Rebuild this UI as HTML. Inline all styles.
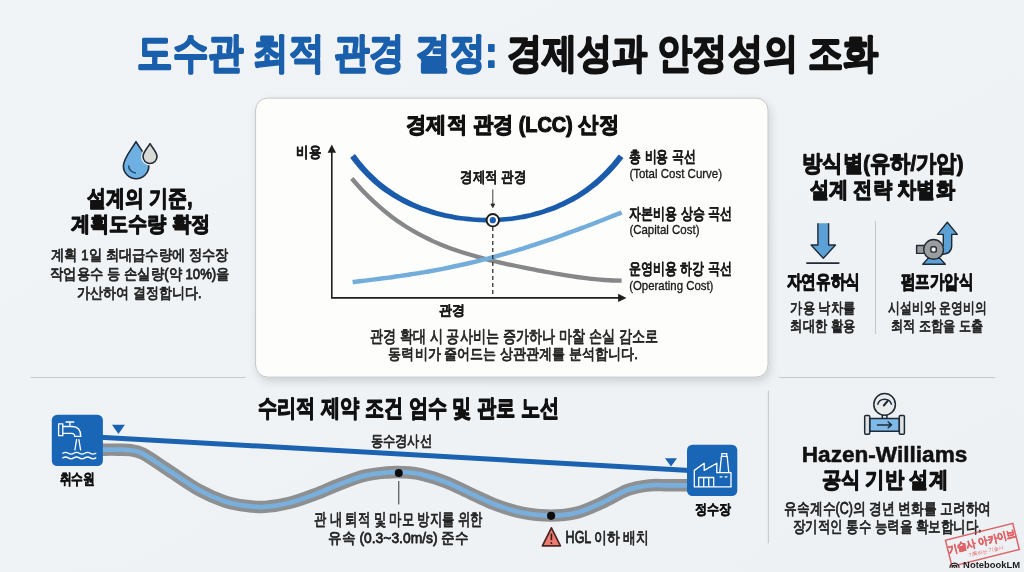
<!DOCTYPE html>
<html lang="ko"><head><meta charset="utf-8"><title>도수관 최적 관경 결정</title>
<style>html,body{margin:0;padding:0;background:#f0f3f6;}body{width:1024px;height:572px;overflow:hidden;font-family:'Liberation Sans', sans-serif;}</style>
</head><body>
<svg width="1024" height="572" viewBox="0 0 1024 572" style="display:block;font-family:'Liberation Sans', sans-serif;will-change:transform">
<defs>
<linearGradient id="bg" x1="0" y1="0" x2="1" y2="1">
<stop offset="0" stop-color="#f1f4f7"/><stop offset="1" stop-color="#eef1f4"/>
</linearGradient>
<filter id="sh" x="-10%" y="-10%" width="120%" height="130%">
<feGaussianBlur in="SourceAlpha" stdDeviation="4.5"/><feOffset dx="1.5" dy="4"/>
<feComponentTransfer><feFuncA type="linear" slope="0.14"/></feComponentTransfer>
<feMerge><feMergeNode/><feMergeNode in="SourceGraphic"/></feMerge>
</filter>
</defs>
<rect width="1024" height="572" fill="url(#bg)"/>
<text x="137.2" y="66.9" font-size="41.6" font-weight="bold" fill="#1a5fab" stroke="#1a5fab" stroke-width="2.0" stroke-linejoin="round" textLength="360.1" lengthAdjust="spacingAndGlyphs">도수관 최적 관경 결정:</text>
<text x="506.5" y="67.0" font-size="41.0" font-weight="bold" fill="#111" stroke="#111" stroke-width="2.0" stroke-linejoin="round" textLength="372.0" lengthAdjust="spacingAndGlyphs">경제성과 안정성의 조화</text>
<g stroke="#c6cace" stroke-width="1.1" fill="none"><path d="M30.5,377.5H245.5"/><path d="M778.8,377.5H995"/><path d="M768.4,390.6V543.5"/><path d="M875.5,221V334"/></g>
<rect x="255.6" y="98.1" width="512.4" height="279" rx="12" fill="#fdfdfb" stroke="#c3c6ca" stroke-width="1" filter="url(#sh)"/>
<text x="406.1" y="132.2" font-size="21.5" font-weight="bold" fill="#111" stroke="#111" stroke-width="1.15" stroke-linejoin="round" textLength="212.8" lengthAdjust="spacingAndGlyphs">경제적 관경 (LCC) 산정</text>
<g stroke="#1e1e1e" stroke-width="1.6" fill="none"><path d="M331.8,150V297.9H620.5"/></g>
<path d="M331.8,144.5l-4.2,8.2h8.4z" fill="#1e1e1e"/>
<path d="M626.5,297.9l-8.4,-4.2v8.4z" fill="#1e1e1e"/>
<text x="296.2" y="156.9" font-size="14.6" font-weight="bold" fill="#1a1a1a" stroke="#1a1a1a" stroke-width="0.4" stroke-linejoin="round" textLength="24.9" lengthAdjust="spacingAndGlyphs">비용</text>
<text x="438.8" y="315.4" font-size="14.3" font-weight="bold" fill="#1a1a1a" stroke="#1a1a1a" stroke-width="0.4" stroke-linejoin="round" textLength="26.0" lengthAdjust="spacingAndGlyphs">관경</text>
<path d="M351.8,178.5 C353.3,180.2 357.8,185.4 360.8,188.7 C363.8,191.9 366.8,195.0 369.8,197.9 C372.8,200.8 375.8,203.6 378.8,206.2 C381.8,208.9 384.8,211.4 387.8,213.7 C390.8,216.1 393.8,218.3 396.8,220.5 C399.8,222.6 402.8,224.6 405.8,226.5 C408.8,228.4 411.8,230.2 414.8,231.9 C417.8,233.6 420.8,235.2 423.8,236.7 C426.8,238.3 429.8,239.7 432.8,241.1 C435.8,242.4 438.8,243.7 441.8,244.9 C444.8,246.1 447.8,247.3 450.8,248.4 C453.8,249.5 456.8,250.5 459.8,251.5 C462.8,252.5 465.8,253.4 468.8,254.3 C471.8,255.2 474.8,256.1 477.8,256.9 C480.8,257.7 483.8,258.5 486.8,259.3 C489.8,260.1 492.8,260.8 495.8,261.5 C498.8,262.2 501.8,262.9 504.8,263.6 C507.8,264.2 510.8,264.9 513.8,265.5 C516.8,266.2 519.8,266.8 522.8,267.4 C525.8,268.0 528.8,268.6 531.8,269.2 C534.8,269.8 537.8,270.3 540.8,270.9 C543.8,271.5 546.8,272.0 549.8,272.5 C552.8,273.1 555.8,273.6 558.8,274.1 C561.8,274.6 564.8,275.1 567.8,275.6 C570.8,276.1 573.8,276.6 576.8,277.0 C579.8,277.4 582.8,277.8 585.8,278.2 C588.8,278.6 591.8,278.9 594.8,279.2 C597.8,279.5 600.8,279.8 603.8,280.0 C606.8,280.2 609.8,280.4 612.8,280.5 C615.8,280.6 620.1,280.6 621.6,280.6" fill="none" stroke="#868789" stroke-width="4.3"/>
<path d="M352.6,282.1 C354.1,281.9 358.6,281.4 361.6,281.0 C364.6,280.7 367.6,280.3 370.6,279.9 C373.6,279.5 376.6,279.2 379.6,278.8 C382.6,278.4 385.6,278.0 388.6,277.6 C391.6,277.2 394.6,276.7 397.6,276.3 C400.6,275.9 403.6,275.4 406.6,275.0 C409.6,274.5 412.6,274.1 415.6,273.6 C418.6,273.1 421.6,272.6 424.6,272.1 C427.6,271.5 430.6,271.0 433.6,270.5 C436.6,269.9 439.6,269.3 442.6,268.8 C445.6,268.2 448.6,267.6 451.6,267.0 C454.6,266.3 457.6,265.7 460.6,265.0 C463.6,264.4 466.6,263.7 469.6,263.0 C472.6,262.3 475.6,261.6 478.6,260.8 C481.6,260.1 484.6,259.3 487.6,258.6 C490.6,257.8 493.6,257.0 496.6,256.2 C499.6,255.3 502.6,254.5 505.6,253.6 C508.6,252.8 511.6,251.9 514.6,251.0 C517.6,250.1 520.6,249.2 523.6,248.3 C526.6,247.3 529.6,246.4 532.6,245.4 C535.6,244.4 538.6,243.4 541.6,242.4 C544.6,241.4 547.6,240.4 550.6,239.4 C553.6,238.3 556.6,237.3 559.6,236.2 C562.6,235.1 565.6,234.0 568.6,232.9 C571.6,231.8 574.6,230.7 577.6,229.6 C580.6,228.5 583.6,227.3 586.6,226.2 C589.6,225.0 592.6,223.9 595.6,222.7 C598.6,221.5 601.6,220.4 604.6,219.2 C607.6,218.0 610.8,216.7 613.6,215.6 C616.4,214.5 620.3,213.0 621.6,212.4" fill="none" stroke="#73addb" stroke-width="4.4"/>
<path d="M492.8,227V297" fill="none" stroke="#222" stroke-width="1.2" stroke-dasharray="4 3"/>
<path d="M350.2,157.7 C351.2,159.0 354.2,163.0 356.3,165.5 C358.3,168.0 360.3,170.4 362.4,172.6 C364.4,174.8 366.5,176.9 368.5,178.8 C370.6,180.8 372.6,182.7 374.7,184.4 C376.7,186.2 378.8,187.8 380.8,189.4 C382.9,190.9 384.9,192.4 387.0,193.8 C389.0,195.2 391.1,196.5 393.1,197.8 C395.2,199.0 397.2,200.2 399.3,201.3 C401.3,202.4 403.4,203.5 405.4,204.4 C407.4,205.4 409.5,206.4 411.5,207.3 C413.6,208.1 415.6,209.0 417.6,209.8 C419.7,210.6 421.7,211.3 423.7,212.0 C425.8,212.7 427.8,213.4 429.8,214.0 C431.9,214.6 433.9,215.2 435.9,215.7 C438.0,216.3 440.0,216.8 442.0,217.2 C444.1,217.7 446.1,218.1 448.1,218.5 C450.1,218.9 452.2,219.3 454.2,219.7 C456.2,220.0 458.2,220.3 460.3,220.6 C462.3,220.8 464.3,221.1 466.3,221.3 C468.4,221.5 470.4,221.7 472.4,221.8 C474.4,222.0 476.5,222.1 478.5,222.2 C480.5,222.3 482.5,222.3 484.6,222.4 C486.6,222.4 488.6,222.4 490.6,222.3 C492.7,222.3 494.7,222.3 496.7,222.2 C498.7,222.1 500.8,222.0 502.8,221.8 C504.8,221.7 506.8,221.5 508.9,221.3 C510.9,221.1 512.9,220.8 514.9,220.5 C517.0,220.3 519.0,219.9 521.0,219.6 C523.0,219.2 525.1,218.9 527.1,218.4 C529.1,218.0 531.2,217.6 533.2,217.1 C535.2,216.6 537.2,216.0 539.3,215.5 C541.3,214.9 543.3,214.3 545.4,213.6 C547.4,213.0 549.4,212.3 551.5,211.5 C553.5,210.8 555.6,210.0 557.6,209.2 C559.6,208.3 561.7,207.4 563.7,206.5 C565.7,205.6 567.8,204.6 569.8,203.5 C571.9,202.5 573.9,201.4 575.9,200.2 C578.0,199.0 580.0,197.8 582.1,196.5 C584.1,195.2 586.2,193.8 588.2,192.4 C590.3,190.9 592.3,189.4 594.4,187.8 C596.4,186.2 598.4,184.5 600.5,182.7 C602.5,180.9 604.6,179.1 606.6,177.1 C608.7,175.1 610.7,173.0 612.8,170.8 C614.8,168.6 617.1,165.9 618.9,163.8 C620.7,161.7 622.7,159.0 623.5,158.1 L618.7,154.4 C618.0,155.3 616.0,157.9 614.3,160.0 C612.6,162.1 610.4,164.7 608.4,166.8 C606.5,169.0 604.5,171.0 602.6,172.9 C600.6,174.9 598.7,176.7 596.7,178.4 C594.8,180.2 592.8,181.8 590.8,183.4 C588.9,185.0 586.9,186.5 585.0,187.9 C583.0,189.3 581.1,190.6 579.1,191.9 C577.2,193.2 575.2,194.4 573.3,195.6 C571.3,196.7 569.3,197.8 567.4,198.8 C565.4,199.9 563.5,200.9 561.5,201.8 C559.5,202.7 557.6,203.6 555.6,204.4 C553.6,205.3 551.7,206.1 549.7,206.8 C547.8,207.5 545.8,208.2 543.8,208.9 C541.9,209.6 539.9,210.2 537.9,210.8 C536.0,211.3 534.0,211.9 532.0,212.4 C530.0,212.9 528.1,213.3 526.1,213.8 C524.1,214.2 522.2,214.6 520.2,215.0 C518.2,215.3 516.2,215.6 514.3,215.9 C512.3,216.2 510.3,216.5 508.3,216.7 C506.4,216.9 504.4,217.1 502.4,217.3 C500.4,217.4 498.5,217.6 496.5,217.7 C494.5,217.8 492.5,217.8 490.6,217.8 C488.6,217.9 486.6,217.9 484.6,217.8 C482.7,217.8 480.7,217.7 478.7,217.6 C476.7,217.5 474.8,217.4 472.8,217.2 C470.8,217.0 468.8,216.8 466.9,216.6 C464.9,216.4 462.9,216.1 460.9,215.9 C459.0,215.6 457.0,215.3 455.0,214.9 C453.0,214.6 451.1,214.2 449.1,213.8 C447.1,213.3 445.1,212.9 443.2,212.4 C441.2,211.9 439.2,211.4 437.3,210.9 C435.3,210.3 433.3,209.7 431.4,209.1 C429.4,208.5 427.4,207.8 425.5,207.1 C423.5,206.4 421.5,205.7 419.6,204.9 C417.6,204.1 415.6,203.3 413.7,202.4 C411.7,201.5 409.8,200.6 407.8,199.6 C405.8,198.6 403.9,197.6 401.9,196.5 C400.0,195.4 398.0,194.2 396.1,193.0 C394.1,191.8 392.2,190.5 390.2,189.1 C388.3,187.8 386.3,186.3 384.4,184.8 C382.4,183.3 380.5,181.7 378.5,180.0 C376.6,178.3 374.6,176.5 372.7,174.6 C370.7,172.7 368.8,170.7 366.8,168.5 C364.9,166.4 362.9,164.1 360.9,161.7 C359.0,159.3 356.0,155.3 355.0,154.0 Z" fill="#1a5cab"/>
<circle cx="492.8" cy="220.2" r="6.2" fill="#fff" stroke="#1d1d1d" stroke-width="1.9"/>
<circle cx="492.8" cy="220.2" r="3.1" fill="#1b5fae"/>
<text x="460.1" y="181.9" font-size="15.1" font-weight="bold" fill="#1a1a1a" stroke="#1a1a1a" stroke-width="0.2" stroke-linejoin="round" textLength="66.1" lengthAdjust="spacingAndGlyphs">경제적 관경</text>
<path d="M492.8,189.5V206M490.9,204l1.9,3.6l1.9,-3.6z" fill="#2a2a2a" stroke="#2a2a2a" stroke-width="0.9"/>
<text x="629.3" y="162.2" font-size="16.2" font-weight="bold" fill="#1a1a1a" stroke="#1a1a1a" stroke-width="0.2" stroke-linejoin="round" textLength="66.2" lengthAdjust="spacingAndGlyphs">총 비용 곡선</text>
<text x="629.4" y="177.5" font-size="13.5" font-weight="normal" fill="#1a1a1a" stroke="#1a1a1a" stroke-width="0.35" stroke-linejoin="round" textLength="92.7" lengthAdjust="spacingAndGlyphs">(Total Cost Curve)</text>
<text x="629.3" y="219.0" font-size="15.7" font-weight="bold" fill="#1a1a1a" stroke="#1a1a1a" stroke-width="0.2" stroke-linejoin="round" textLength="102.6" lengthAdjust="spacingAndGlyphs">자본비용 상승 곡선</text>
<text x="629.4" y="233.8" font-size="13.1" font-weight="normal" fill="#1a1a1a" stroke="#1a1a1a" stroke-width="0.35" stroke-linejoin="round" textLength="70.1" lengthAdjust="spacingAndGlyphs">(Capital Cost)</text>
<text x="629.1" y="274.1" font-size="15.7" font-weight="bold" fill="#1a1a1a" stroke="#1a1a1a" stroke-width="0.2" stroke-linejoin="round" textLength="102.6" lengthAdjust="spacingAndGlyphs">운영비용 하강 곡선</text>
<text x="629.2" y="290.2" font-size="13.1" font-weight="normal" fill="#1a1a1a" stroke="#1a1a1a" stroke-width="0.35" stroke-linejoin="round" textLength="84.2" lengthAdjust="spacingAndGlyphs">(Operating Cost)</text>
<text x="369.6" y="341.8" font-size="17.3" font-weight="normal" fill="#222" stroke="#222" stroke-width="0.8" stroke-linejoin="round" textLength="288.7" lengthAdjust="spacingAndGlyphs">관경 확대 시 공사비는 증가하나 마찰 손실 감소로</text>
<text x="388.4" y="359.1" font-size="15.1" font-weight="normal" fill="#222" stroke="#222" stroke-width="0.8" stroke-linejoin="round" textLength="249.6" lengthAdjust="spacingAndGlyphs">동력비가 줄어드는 상관관계를 분석합니다.</text>
<g stroke="#1f2a36" stroke-width="1.6" stroke-linejoin="round"><path d="M136,141.6C131,150 123.4,158.5 123.4,166A12.7,12.7 0 0 0 148.8,166C148.8,158.5 141,150 136,141.6Z" fill="#6fb0e2"/><path d="M150,143.6C147.5,148 143,152.5 143,156.5A7,7 0 0 0 157,156.5C157,152.5 152.5,148 150,143.6Z" fill="#d9d9d5" stroke="#f4f6f8" stroke-width="4"/><path d="M150,143.6C147.5,148 143,152.5 143,156.5A7,7 0 0 0 157,156.5C157,152.5 152.5,148 150,143.6Z" fill="#d9d9d5"/><path d="M128.6,165.5A7.5,7.5 0 0 0 136,173" fill="none" stroke="#1f4f78"/></g>
<text x="87.1" y="205.6" font-size="23.1" font-weight="bold" fill="#111" stroke="#111" stroke-width="1.15" stroke-linejoin="round" textLength="105.4" lengthAdjust="spacingAndGlyphs">설계의 기준,</text>
<text x="70.6" y="231.1" font-size="20.8" font-weight="bold" fill="#111" stroke="#111" stroke-width="1.15" stroke-linejoin="round" textLength="139.6" lengthAdjust="spacingAndGlyphs">계획도수량 확정</text>
<text x="51.2" y="259.7" font-size="14.8" font-weight="normal" fill="#222" stroke="#222" stroke-width="0.8" stroke-linejoin="round" textLength="177.4" lengthAdjust="spacingAndGlyphs">계획 1일 최대급수량에 정수장</text>
<text x="50.1" y="279.1" font-size="14.8" font-weight="normal" fill="#222" stroke="#222" stroke-width="0.8" stroke-linejoin="round" textLength="179.5" lengthAdjust="spacingAndGlyphs">작업용수 등 손실량(약 10%)을</text>
<text x="77.4" y="297.9" font-size="14.8" font-weight="normal" fill="#222" stroke="#222" stroke-width="0.8" stroke-linejoin="round" textLength="124.2" lengthAdjust="spacingAndGlyphs">가산하여 결정합니다.</text>
<text x="802.1" y="170.8" font-size="22.6" font-weight="bold" fill="#111" stroke="#111" stroke-width="1.15" stroke-linejoin="round" textLength="161.3" lengthAdjust="spacingAndGlyphs">방식별(유하/가압)</text>
<text x="809.6" y="197.1" font-size="21.9" font-weight="bold" fill="#111" stroke="#111" stroke-width="1.15" stroke-linejoin="round" textLength="145.3" lengthAdjust="spacingAndGlyphs">설계 전략 차별화</text>
<path d="M817.9,223.3V245H811.1L823.3,258.3L835.5,245H828.6V223.3" fill="#5ca1d6" stroke="#1f2a36" stroke-width="1.4" stroke-linejoin="round"/>
<path d="M806.3,263.1H839.4" stroke="#1f2a36" stroke-width="1.6"/>
<g stroke="#1f2a36" stroke-width="1.4" stroke-linejoin="round"><path d="M928,258.4L922.8,264.3H945.3L940,258.4Z" fill="#5ca1d6"/><path d="M940,254.5C946,254.5 951.7,253 951.7,246V234.4H957.3L947.3,222.3L937.4,234.4H943.3V244C943.3,246.5 942,247.5 940,247.5Z" fill="#5ca1d6"/><rect x="916.6" y="245.5" width="9" height="7.9" fill="#9b9c9e"/><circle cx="933.6" cy="249.4" r="9.9" fill="#9b9c9e"/><rect x="930.9" y="246.7" width="5.4" height="5.4" rx="1.8" fill="#f2f2f2"/></g>
<text x="786.5" y="287.8" font-size="18.7" font-weight="bold" fill="#111" stroke="#111" stroke-width="1.0" stroke-linejoin="round" textLength="73.5" lengthAdjust="spacingAndGlyphs">자연유하식</text>
<text x="900.9" y="287.8" font-size="18.7" font-weight="bold" fill="#111" stroke="#111" stroke-width="1.0" stroke-linejoin="round" textLength="72.6" lengthAdjust="spacingAndGlyphs">펌프가압식</text>
<text x="790.4" y="312.7" font-size="14.5" font-weight="normal" fill="#222" stroke="#222" stroke-width="0.8" stroke-linejoin="round" textLength="64.7" lengthAdjust="spacingAndGlyphs">가용 낙차를</text>
<text x="790.4" y="330.9" font-size="15.2" font-weight="normal" fill="#222" stroke="#222" stroke-width="0.8" stroke-linejoin="round" textLength="64.9" lengthAdjust="spacingAndGlyphs">최대한 활용</text>
<text x="888.4" y="312.7" font-size="14.5" font-weight="normal" fill="#222" stroke="#222" stroke-width="0.8" stroke-linejoin="round" textLength="98.2" lengthAdjust="spacingAndGlyphs">시설비와 운영비의</text>
<text x="890.9" y="330.9" font-size="15.2" font-weight="normal" fill="#222" stroke="#222" stroke-width="0.8" stroke-linejoin="round" textLength="92.0" lengthAdjust="spacingAndGlyphs">최적 조합을 도출</text>
<text x="258.1" y="416.4" font-size="24.2" font-weight="bold" fill="#111" stroke="#111" stroke-width="1.15" stroke-linejoin="round" textLength="301.1" lengthAdjust="spacingAndGlyphs">수리적 제약 조건 엄수 및 관로 노선</text>
<path d="M100.0,449.7 C103.0,449.7 112.9,449.6 118.0,449.7 C123.1,449.8 126.4,449.5 130.6,450.2 C134.8,450.9 136.8,450.5 143.1,453.8 C149.3,457.1 158.7,463.9 168.1,470.0 C177.5,476.1 190.0,485.1 199.4,490.3 C208.8,495.5 216.6,498.7 224.4,501.3 C232.2,503.9 239.5,505.0 246.3,505.9 C253.1,506.8 257.7,507.4 265.0,506.9 C272.3,506.4 281.7,504.9 290.0,502.8 C298.3,500.7 306.7,497.5 315.0,494.4 C323.3,491.3 331.7,487.2 340.0,484.1 C348.3,481.0 357.2,477.5 365.0,475.6 C372.8,473.7 380.6,473.1 386.9,472.5 C393.1,471.9 396.8,471.9 402.5,472.2 C408.2,472.5 414.0,472.7 421.3,474.4 C428.6,476.1 438.0,479.0 446.3,482.2 C454.6,485.4 463.0,490.0 471.3,493.8 C479.6,497.6 488.0,501.9 496.3,505.0 C504.6,508.1 512.2,510.7 521.3,512.5 C530.4,514.3 541.6,515.6 551.0,515.6 C560.4,515.6 568.9,514.7 577.5,512.5 C586.1,510.3 594.2,506.2 602.5,502.5 C610.8,498.8 619.7,492.9 627.5,490.0 C635.3,487.1 642.6,486.1 649.4,485.3 C656.1,484.5 661.2,485.3 668.0,485.3 C674.8,485.3 686.3,485.3 690.0,485.3" fill="none" stroke="#8e8f91" stroke-width="12.4"/>
<path d="M100.0,449.7 C103.0,449.7 112.9,449.6 118.0,449.7 C123.1,449.8 126.4,449.5 130.6,450.2 C134.8,450.9 136.8,450.5 143.1,453.8 C149.3,457.1 158.7,463.9 168.1,470.0 C177.5,476.1 190.0,485.1 199.4,490.3 C208.8,495.5 216.6,498.7 224.4,501.3 C232.2,503.9 239.5,505.0 246.3,505.9 C253.1,506.8 257.7,507.4 265.0,506.9 C272.3,506.4 281.7,504.9 290.0,502.8 C298.3,500.7 306.7,497.5 315.0,494.4 C323.3,491.3 331.7,487.2 340.0,484.1 C348.3,481.0 357.2,477.5 365.0,475.6 C372.8,473.7 380.6,473.1 386.9,472.5 C393.1,471.9 396.8,471.9 402.5,472.2 C408.2,472.5 414.0,472.7 421.3,474.4 C428.6,476.1 438.0,479.0 446.3,482.2 C454.6,485.4 463.0,490.0 471.3,493.8 C479.6,497.6 488.0,501.9 496.3,505.0 C504.6,508.1 512.2,510.7 521.3,512.5 C530.4,514.3 541.6,515.6 551.0,515.6 C560.4,515.6 568.9,514.7 577.5,512.5 C586.1,510.3 594.2,506.2 602.5,502.5 C610.8,498.8 619.7,492.9 627.5,490.0 C635.3,487.1 642.6,486.1 649.4,485.3 C656.1,484.5 661.2,485.3 668.0,485.3 C674.8,485.3 686.3,485.3 690.0,485.3" fill="none" stroke="#79afdc" stroke-width="4.7"/>
<path d="M100,437.2L690,470.4" stroke="#1b62b0" stroke-width="5"/>
<path d="M112,424.7H124.9L118.45,434.1Z" fill="#1b62b0"/>
<path d="M665,458.3H677L671,466.6Z" fill="#1b62b0"/>
<rect x="51.8" y="414.7" width="51.1" height="51.3" rx="5.5" fill="#1a66b6"/>
<g fill="none" stroke="#fff" stroke-width="1.3" stroke-linejoin="round" stroke-linecap="round"><rect x="58.6" y="423.9" width="4.2" height="11.8"/><path d="M66,422H73.8M69.9,422V426.4"/><path d="M62.8,426.5H72C78,426.5 80.8,430 80.8,436.4H74.7C74.7,434 73.5,433.3 71.5,433.3H62.8"/><path d="M76.6,439.6L74.9,449.8M78.9,439.6L80.6,449.8"/><path d="M62.8,453.2q2.75,-1.8 5.5,0t5.5,0t5.5,0t5.5,0t5.5,0t5.5,0"/><path d="M62.8,457.9q2.75,-1.8 5.5,0t5.5,0t5.5,0t5.5,0t5.5,0t5.5,0"/></g>
<text x="59.5" y="483.9" font-size="14.5" font-weight="bold" fill="#111" stroke="#111" stroke-width="0.5" stroke-linejoin="round" textLength="35.5" lengthAdjust="spacingAndGlyphs">취수원</text>
<rect x="687" y="444.7" width="50.3" height="51.3" rx="5.5" fill="#1a66b6"/>
<g fill="none" stroke="#fff" stroke-width="1.3" stroke-linejoin="round"><path d="M694.3,486.9V470.4L704.2,463.3V470.4L716.8,463.3V472.7H731V486.9Z"/><path d="M719.8,472.7L721.4,456.4H727.2L728.8,472.7M721.8,456.4V453.6H726.8V456.4"/><path d="M698.7,486.9V477.5H713.7V486.9M703.7,477.5V486.9M708.7,477.5V486.9"/><path d="M719.6,476.8H722.4M724.6,476.8H727.4"/></g>
<text x="694.5" y="514.3" font-size="14.0" font-weight="bold" fill="#111" stroke="#111" stroke-width="0.5" stroke-linejoin="round" textLength="36.2" lengthAdjust="spacingAndGlyphs">정수장</text>
<text x="370.6" y="446.1" font-size="15.2" font-weight="normal" fill="#222" stroke="#222" stroke-width="0.8" stroke-linejoin="round" textLength="61.5" lengthAdjust="spacingAndGlyphs">동수경사선</text>
<circle cx="398.8" cy="473" r="4" fill="#0c0c0c"/><circle cx="551.1" cy="515.8" r="4.1" fill="#0c0c0c"/>
<path d="M398.8,481V504.4" stroke="#333" stroke-width="1"/>
<text x="313.9" y="524.5" font-size="16.5" font-weight="normal" fill="#222" stroke="#222" stroke-width="0.8" stroke-linejoin="round" textLength="169.0" lengthAdjust="spacingAndGlyphs">관 내 퇴적 및 마모 방지를 위한</text>
<text x="328.4" y="542.8" font-size="15.3" font-weight="normal" fill="#222" stroke="#222" stroke-width="0.8" stroke-linejoin="round" textLength="140.2" lengthAdjust="spacingAndGlyphs">유속 (0.3~3.0m/s) 준수</text>
<path d="M551.4,527.8L560.4,545.8H542.4Z" fill="#ee7b72" stroke="#4a2624" stroke-width="1.7" stroke-linejoin="round"/>
<path d="M551.4,533.6V540.2" stroke="#3a1c1a" stroke-width="1.7"/><circle cx="551.4" cy="543" r="1" fill="#3a1c1a"/>
<text x="565.6" y="543.0" font-size="15.7" font-weight="normal" fill="#222" stroke="#222" stroke-width="0.8" stroke-linejoin="round" textLength="83.3" lengthAdjust="spacingAndGlyphs">HGL 이하 배치</text>
<g stroke="#1f2a36" stroke-width="1.5" stroke-linejoin="round"><rect x="882.3" y="414.5" width="4.6" height="4.5" fill="#e6e9ec"/><circle cx="884.6" cy="404.4" r="10.8" fill="#e9ebed"/><path d="M877.6,404.8A7.2,7.2 0 0 1 891.6,404.8" fill="none"/><path d="M883.8,405.5L887.6,401" stroke-width="2" stroke-linecap="round"/><rect x="869.7" y="418.4" width="29.6" height="12.8" fill="#7fbbe8"/><rect x="864.7" y="415.4" width="5" height="18.9" rx="1" fill="#dfe3e6"/><rect x="899.3" y="415.4" width="5.1" height="18.9" rx="1" fill="#dfe3e6"/><path d="M877.5,424.9H891.5M888.2,422l3.3,2.9l-3.3,2.9" fill="none" stroke-linecap="round"/></g>
<text x="801.8" y="461.6" font-size="22.1" font-weight="bold" fill="#111" stroke="#111" stroke-width="0.5" stroke-linejoin="round" textLength="165.5" lengthAdjust="spacingAndGlyphs">Hazen-Williams</text>
<text x="821.6" y="486.6" font-size="21.7" font-weight="bold" fill="#111" stroke="#111" stroke-width="1.15" stroke-linejoin="round" textLength="126.3" lengthAdjust="spacingAndGlyphs">공식 기반 설계</text>
<text x="784.4" y="513.6" font-size="15.6" font-weight="normal" fill="#222" stroke="#222" stroke-width="0.8" stroke-linejoin="round" textLength="206.7" lengthAdjust="spacingAndGlyphs">유속계수(C)의 경년 변화를 고려하여</text>
<text x="793.0" y="531.8" font-size="16.1" font-weight="normal" fill="#222" stroke="#222" stroke-width="0.8" stroke-linejoin="round" textLength="188.6" lengthAdjust="spacingAndGlyphs">장기적인 통수 능력을 확보합니다.</text>
<g transform="rotate(-14.1 982.4 544.9)" opacity="0.82"><rect x="947.7" y="531.4" width="69.4" height="26.9" fill="none" stroke="#d8474a" stroke-width="1.5"/><text x="947.5" y="545.1" font-size="10.9" font-weight="bold" fill="#dc4347" stroke="#dc4347" stroke-width="0.5" stroke-linejoin="round" textLength="70.1" lengthAdjust="spacingAndGlyphs">기술사 아카이브</text><text x="966.0" y="553.5" font-size="5.2" font-weight="normal" fill="#dc4347" textLength="36.0" lengthAdjust="spacingAndGlyphs">기록하는 기술사</text></g>
<g fill="none" stroke="#1c1c1c" stroke-width="1.25"><path d="M949.9,567.8A4.6,4.6 0 0 1 959.1,567.8"/><path d="M952.1,567.8A2.4,2.4 0 0 1 956.9,567.8"/><path d="M954.1,567.8A0.4,0.4 0 0 1 954.9,567.8"/></g>
<text x="963.1" y="567.7" font-size="9.5" font-weight="bold" fill="#1c1c1c" textLength="57.1" lengthAdjust="spacingAndGlyphs">NotebookLM</text>
</svg>
</body></html>
